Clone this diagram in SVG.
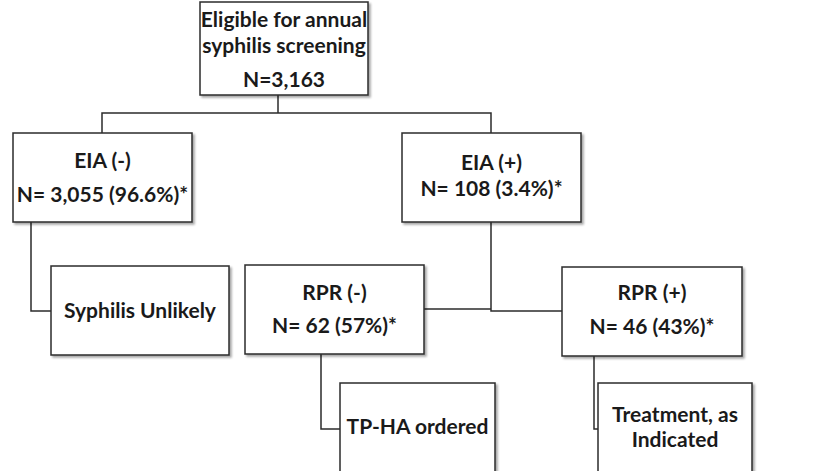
<svg xmlns="http://www.w3.org/2000/svg" width="835" height="471" viewBox="0 0 835 471">
<defs>
<filter id="sh" x="-5%" y="-5%" width="115%" height="120%">
<feDropShadow dx="2" dy="2" stdDeviation="1.2" flood-color="#000" flood-opacity="0.35"/>
</filter>
</defs>
<style>
.box{fill:#fff;stroke:#2b2b2b;stroke-width:1.5;filter:url(#sh)}
.t{font-family:Lato,"Open Sans","Liberation Sans",sans-serif;font-weight:bold;font-size:21px;fill:#1a1a1a;text-anchor:middle}
.c{fill:none;stroke:#2b2b2b;stroke-width:1.5}
</style>
<rect width="835" height="471" fill="#fff"/>
<g id="connectors">
<polyline class="c" points="278,95 278,113"/>
<polyline class="c" points="102,133 102,113 491,113 491,133"/>
<polyline class="c" points="31,222 31,311 51,311"/>
<polyline class="c" points="491,222 491,311 562,311"/>
<polyline class="c" points="424,309 491,309"/>
<polyline class="c" points="321,354 321,429 340,429"/>
<polyline class="c" points="594,356 594,429 598,429"/>
</g>
<g id="root">
<rect class="box" x="200" y="2" width="168" height="93"/>
<text class="t" x="284" y="27">Eligible for annual</text>
<text class="t" x="284" y="53">syphilis screening</text>
<text class="t" x="284" y="87">N=3,163</text>
</g>
<g id="eia-neg">
<rect class="box" x="13" y="133" width="179" height="89"/>
<text class="t" x="102.5" y="168">EIA (-)</text>
<text class="t" x="102.5" y="202">N= 3,055 (96.6%)*</text>
</g>
<g id="eia-pos">
<rect class="box" x="402" y="133" width="179" height="89"/>
<text class="t" x="491.5" y="170">EIA (+)</text>
<text class="t" x="491.5" y="196">N= 108 (3.4%)*</text>
</g>
<g id="syphilis-unlikely">
<rect class="box" x="51" y="266" width="178" height="89"/>
<text class="t" x="140" y="318">Syphilis Unlikely</text>
</g>
<g id="rpr-neg">
<rect class="box" x="245" y="265" width="179" height="89"/>
<text class="t" x="334.5" y="300">RPR (-)</text>
<text class="t" x="334.5" y="333">N= 62 (57%)*</text>
</g>
<g id="rpr-pos">
<rect class="box" x="562" y="267" width="180" height="89"/>
<text class="t" x="652" y="300">RPR (+)</text>
<text class="t" x="652" y="334">N= 46 (43%)*</text>
</g>
<g id="tpha">
<rect class="box" x="340" y="383" width="155" height="100"/>
<text class="t" x="417.5" y="434">TP-HA ordered</text>
</g>
<g id="treatment">
<rect class="box" x="598" y="383" width="154" height="100"/>
<text class="t" x="675" y="422">Treatment, as</text>
<text class="t" x="675" y="447">Indicated</text>
</g>
</svg>
